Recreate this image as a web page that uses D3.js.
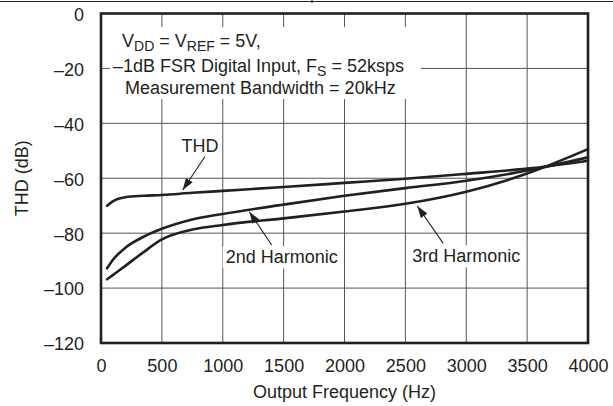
<!DOCTYPE html>
<html>
<head>
<meta charset="utf-8">
<script src="https://cdn.jsdelivr.net/npm/d3@7"></script>
<style>
  body { margin: 0; background: #fff; }
  text { font-family: "Liberation Sans", Arial, Helvetica, sans-serif; fill: #231f20; font-size: 18px; }
</style>
</head>
<body>
<svg id="chart" width="613" height="406"></svg>
<script>
// tick values
var freqTicks = [0, 500, 1000, 1500, 2000, 2500, 3000, 3500, 4000];
var dbTicks = [0, -20, -40, -60, -80, -100, -120];

// curves (Hz, dB)
var freqHz = [50, 100, 200, 350, 500, 750, 1000, 1500, 2000, 2500, 3000, 3500, 4000];
var thdDb  = [-70.0, -68.3, -66.9, -66.4, -66.1, -65.3, -64.6, -63.2, -61.7, -60.2, -58.4, -56.5, -53.6];
var h2Db   = [-92.8, -89.6, -85.3, -81.3, -78.4, -75.0, -73.0, -69.6, -66.4, -63.6, -60.9, -57.2, -52.4];
var h3Db   = [-96.8, -95.2, -91.9, -86.9, -82.3, -78.7, -77.0, -74.6, -72.1, -69.3, -64.9, -58.3, -49.4];

// callouts: label position and arrow tail/tip, all in data units
var labelText = ['THD', '2nd Harmonic', '3rd Harmonic'];
var labelAt   = [[813, -50.5], [1484, -91.0], [3000, -90.6]];
var arrowFrom = [[854, -52.1], [1402, -84.3], [2811, -83.7]];
var arrowTo   = [[671, -64.3], [1218, -72.2], [2598, -70.1]];

var pL = 101, pR = 588, pT = 13.5, pB = 343;
var ink = '#231f20';

var svg = d3.select('#chart');

var x = d3.scaleLinear().domain([0, 4000]).range([pL, pR]);
var y = d3.scaleLinear().domain([-120, 0]).range([pB, pT]);

// page header rule
svg.append('line').attr('x1', 0).attr('x2', 613).attr('y1', 1.5).attr('y2', 1.5)
    .attr('stroke', ink).attr('stroke-width', 1.2);
svg.append('line').attr('x1', 312).attr('x2', 312).attr('y1', 0).attr('y2', 3)
    .attr('stroke', ink).attr('stroke-width', 1);

// grid
var grid = svg.append('g').attr('stroke', '#555').attr('stroke-width', 1);
grid.selectAll('line.v').data(freqTicks.slice(1, -1)).enter().append('line')
    .attr('x1', function(d) { return x(d); }).attr('x2', function(d) { return x(d); })
    .attr('y1', pT).attr('y2', pB);
grid.selectAll('line.h').data(dbTicks.slice(1, -1)).enter().append('line')
    .attr('y1', function(d) { return y(d); }).attr('y2', function(d) { return y(d); })
    .attr('x1', pL).attr('x2', pR);

// axes (labels only, the frame is drawn below)
var xAxis = svg.append('g').attr('transform', 'translate(0,' + pB + ')')
    .call(d3.axisBottom(x).tickValues(freqTicks).tickSize(0).tickFormat(d3.format('d')));
xAxis.select('.domain').remove();
xAxis.attr('font-size', null).attr('font-family', null);
xAxis.selectAll('text').attr('y', 29).attr('dy', 0).style('fill', ink);

var yAxis = svg.append('g').attr('transform', 'translate(' + pL + ',0)')
    .call(d3.axisLeft(y).tickValues(dbTicks).tickSize(0)
        .tickFormat(function(d) { return d < 0 ? '\u2013' + Math.abs(d) : d; }));
yAxis.select('.domain').remove();
yAxis.attr('font-size', null).attr('font-family', null);
yAxis.selectAll('text').attr('x', -17).attr('dy', '0.38em').style('fill', ink);

svg.append('text').attr('x', (pL + pR) / 2).attr('y', 398)
    .attr('text-anchor', 'middle').text('Output Frequency (Hz)');
svg.append('text').attr('transform', 'translate(28,' + (pT + pB) / 2 + ') rotate(-90)')
    .attr('text-anchor', 'middle').text('THD (dB)');

// conditions block with white backing
var note = svg.append('g');
note.append('rect').attr('x', 110).attr('y', 27).attr('width', 311).attr('height', 72).attr('fill', '#fff');
var t1 = note.append('text').attr('x', 122).attr('y', 47);
t1.append('tspan').text('V');
t1.append('tspan').attr('dy', 4).style('font-size', '14px').text('DD');
t1.append('tspan').attr('dy', -4).text(' = V');
t1.append('tspan').attr('dy', 4).style('font-size', '14px').text('REF');
t1.append('tspan').attr('dy', -4).text(' = 5V,');
var t2 = note.append('text').attr('x', 113).attr('y', 71.5);
t2.append('tspan').text('\u20131dB FSR Digital Input, F');
t2.append('tspan').attr('dy', 4).style('font-size', '14px').text('S');
t2.append('tspan').attr('dy', -4).text(' = 52ksps');
note.append('text').attr('x', 125).attr('y', 94)
    .text('Measurement Bandwidth = 20kHz');

// curves
var line = d3.line()
    .x(function(d) { return x(d[0]); })
    .y(function(d) { return y(d[1]); })
    .curve(d3.curveMonotoneX);
[thdDb, h2Db, h3Db].forEach(function(series) {
    svg.append('path')
        .datum(freqHz.map(function(f, i) { return [f, series[i]]; }))
        .attr('d', line)
        .attr('fill', 'none').attr('stroke', ink).attr('stroke-width', 2.6)
        .attr('stroke-linejoin', 'round').attr('stroke-linecap', 'round');
});

// frame
svg.append('rect').attr('x', pL).attr('y', pT)
    .attr('width', pR - pL).attr('height', pB - pT)
    .attr('fill', 'none').attr('stroke', ink).attr('stroke-width', 2.6);

// callouts
svg.append('defs').append('marker')
    .attr('id', 'head').attr('viewBox', '0 0 12 8').attr('refX', 12).attr('refY', 4)
    .attr('markerWidth', 12).attr('markerHeight', 8).attr('markerUnits', 'userSpaceOnUse')
    .attr('orient', 'auto')
    .append('path').attr('d', 'M0,0 L12,4 L0,8 Z').attr('fill', ink);

labelText.forEach(function(txt, i) {
    var g = svg.append('g');
    var bg = g.append('rect').attr('fill', '#fff');
    var t = g.append('text').attr('x', x(labelAt[i][0])).attr('y', y(labelAt[i][1]))
        .attr('text-anchor', 'middle').text(txt);
    var b = t.node().getBBox();
    bg.attr('x', b.x - 3).attr('y', b.y - 1).attr('width', b.width + 6).attr('height', b.height + 2);
    svg.append('line')
        .attr('x1', x(arrowFrom[i][0])).attr('y1', y(arrowFrom[i][1]))
        .attr('x2', x(arrowTo[i][0])).attr('y2', y(arrowTo[i][1]))
        .attr('stroke', ink).attr('stroke-width', 1.1).attr('marker-end', 'url(#head)');
});
</script>
</body>
</html>
